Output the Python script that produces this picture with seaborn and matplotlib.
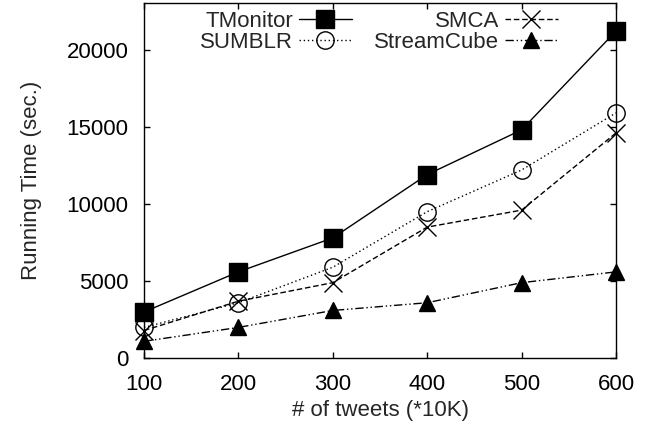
import matplotlib
matplotlib.use("Agg")
import matplotlib.pyplot as plt
import seaborn as sns
import pandas as pd

tweets = [100, 200, 300, 400, 500, 600]
tmonitor = [3000, 5600, 7800, 11900, 14800, 21200]
sumblr = [2000, 3600, 5900, 9500, 12200, 15900]
smca = [1800, 3700, 4900, 8500, 9600, 14600]
streamcube = [1100, 2000, 3100, 3600, 4900, 5600]
methods = ["TMonitor", "SUMBLR", "SMCA", "StreamCube"]

series = dict(zip(methods, [tmonitor, sumblr, smca, streamcube]))

sns.set_style("ticks")
plt.rcParams["font.family"] = ["Liberation Sans", "DejaVu Sans"]

fig = plt.figure(figsize=(6.5, 4.32), dpi=100)
ax = fig.add_axes([144 / 650, 1 - 358.3 / 432, 472 / 650, 355 / 432])

styles = {
    "TMonitor": dict(marker="s", linestyle="-", markersize=13.5, mfc="black"),
    "SUMBLR": dict(marker="o", linestyle=(0, (1, 2)), markersize=12.5, mfc="none"),
    "SMCA": dict(marker="x", linestyle=(0, (4, 2)), markersize=13, mfc="black"),
    "StreamCube": dict(marker="^", linestyle=(0, (6, 2, 1, 2, 1, 2)), markersize=12, mfc="black"),
}

for m in methods:
    st = styles[m]
    df = pd.DataFrame({"tweets": tweets, "time": series[m]})
    sns.lineplot(data=df, x="tweets", y="time", color="black", linewidth=1.0,
                 marker=st["marker"], markersize=st["markersize"],
                 markeredgecolor="black", markerfacecolor=st["mfc"],
                 markeredgewidth=1.0, ax=ax, label=m)
    ln = ax.lines[-1]
    ln.set_linestyle(st["linestyle"])
    ln.set_clip_on(False)

ax.set_xlim(100, 600)
ax.set_ylim(0, 23000)
ax.set_xticks(tweets)
ax.set_yticks([0, 5000, 10000, 15000, 20000])
ax.tick_params(direction="in", length=4, width=1, top=True, right=True,
               labelsize=16, pad=11, colors="black")
for s in ax.spines.values():
    s.set_linewidth(1.0)
    s.set_color("black")
ax.set_xlabel("# of tweets (*10K)", fontsize=16, labelpad=4)
ax.set_ylabel("Running Time (sec.)", fontsize=16, labelpad=18)

handles = list(ax.lines)
leg = ax.legend(handles, methods, ncol=2, markerfirst=False, frameon=False,
                loc="upper left", bbox_to_anchor=(200 / 650, 1 - 11 / 432),
                bbox_transform=fig.transFigure, fontsize=16,
                handlelength=2.4, columnspacing=1.0, labelspacing=0.0,
                handletextpad=0.25, borderaxespad=0, borderpad=0)

fig.savefig("out.png", dpi=100)
